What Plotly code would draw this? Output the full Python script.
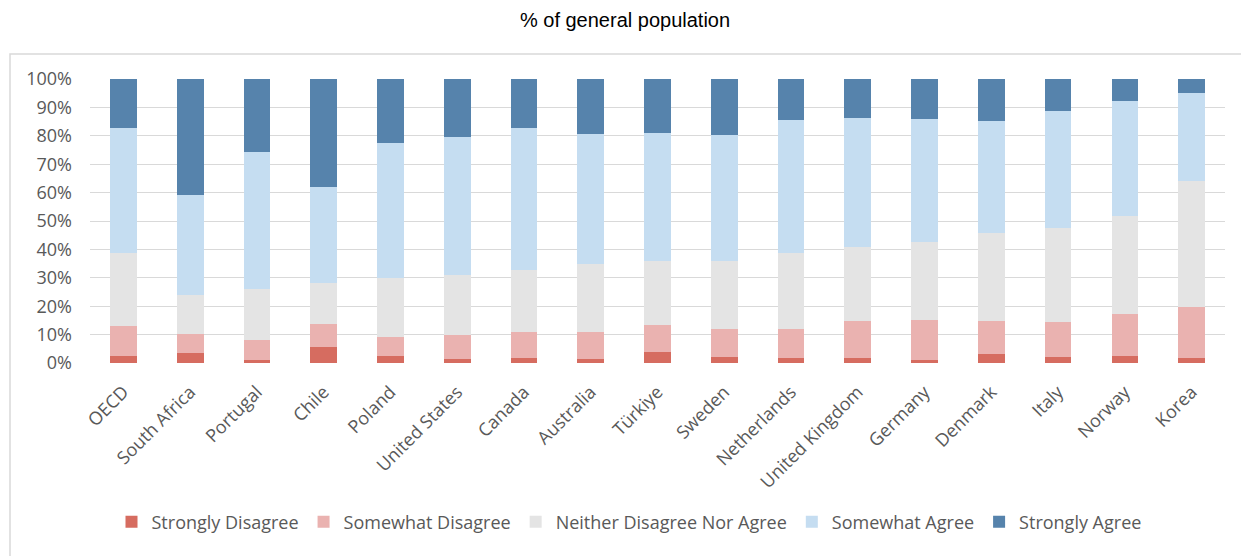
import plotly.graph_objects as go

countries = ["OECD", "South Africa", "Portugal", "Chile", "Poland", "United States",
             "Canada", "Australia", "Türkiye", "Sweden", "Netherlands",
             "United Kingdom", "Germany", "Denmark", "Italy", "Norway", "Korea"]

strongly_disagree = [2.3, 3.6, 1.2, 5.8, 2.5, 1.5, 1.6, 1.5, 4.0, 2.1, 1.8, 1.9, 1.2, 3.2, 2.1, 2.6, 1.9]
somewhat_disagree = [10.7, 6.7, 7.0, 7.8, 6.7, 8.3, 9.2, 9.3, 9.3, 9.7, 10.2, 12.9, 14.0, 11.7, 12.5, 14.8, 17.8]
neither = [25.8, 13.6, 18.0, 14.6, 20.8, 21.3, 21.9, 24.1, 22.5, 24.0, 26.8, 25.9, 27.5, 30.9, 33.0, 34.3, 44.5]
somewhat_agree = [43.9, 35.3, 48.1, 33.6, 47.6, 48.6, 49.9, 45.9, 45.3, 44.5, 46.6, 45.7, 43.3, 39.3, 41.1, 40.4, 30.7]
strongly_agree = [17.3, 40.8, 25.7, 38.2, 22.4, 20.3, 17.4, 19.2, 18.9, 19.7, 14.6, 13.6, 14.0, 14.9, 11.3, 7.9, 5.1]

series = [
    ("Strongly Disagree", strongly_disagree, "#D66C60"),
    ("Somewhat Disagree", somewhat_disagree, "#EAB2B0"),
    ("Neither Disagree Nor Agree", neither, "#E4E4E4"),
    ("Somewhat Agree", somewhat_agree, "#C5DDF1"),
    ("Strongly Agree", strongly_agree, "#5683AC"),
]

fig = go.Figure()
for name, vals, color in series:
    fig.add_trace(go.Bar(
        x=countries, y=[v / 100 for v in vals], name=name,
        marker=dict(color=color, line=dict(width=0)),
    ))

# page has an 8px body margin, so figure coords = screen coords - 8
OFF = 8
W, H = 1249 - OFF, 556 - OFF
L, R = 90 - OFF, 1225 - OFF
T, B = 79 - OFF, 363 - OFF

fig.update_layout(
    width=W, height=H,
    barmode="stack", bargap=0.6,
    plot_bgcolor="white", paper_bgcolor="white",
    margin=dict(l=L, r=W - R, t=T, b=H - B, autoexpand=False),
    font=dict(family="Open Sans", size=18, color="#595959"),
    title=dict(text="% of general population", x=(625 - OFF) / W, xref="container", xanchor="center",
               y=1 - (20 - OFF) / H, yref="container", yanchor="middle",
               font=dict(family="Liberation Sans", size=20, color="#000000")),
    xaxis=dict(tickangle=-45, showgrid=False, showline=False, ticks="",
               ticklabelstandoff=14,
               tickfont=dict(size=18, color="#595959")),
    yaxis=dict(range=[0, 1], tickformat=".0%", dtick=0.1, showgrid=True,
               gridcolor="#D9D9D9", gridwidth=1, zeroline=False, showline=False,
               ticks="", ticklabelstandoff=17,
               tickfont=dict(size=18, color="#595959")),
    legend=dict(orientation="h", xref="container", yref="container",
                x=(629 - OFF) / W, xanchor="center", y=(H - (522 - OFF)) / H, yanchor="middle",
                font=dict(size=18, color="#595959"), traceorder="normal"),
    showlegend=True,
)

# outer chart border
py = lambda p: (B - (p - OFF)) / (B - T)
px = lambda p: ((p - OFF) - L) / (R - L)
fig.add_shape(type="rect", xref="paper", yref="paper",
              x0=px(10), x1=px(1300), y0=py(620), y1=py(54),
              line=dict(color="#D9D9D9", width=1.5), fillcolor="rgba(0,0,0,0)", layer="below")

fig.write_html("out.html")
